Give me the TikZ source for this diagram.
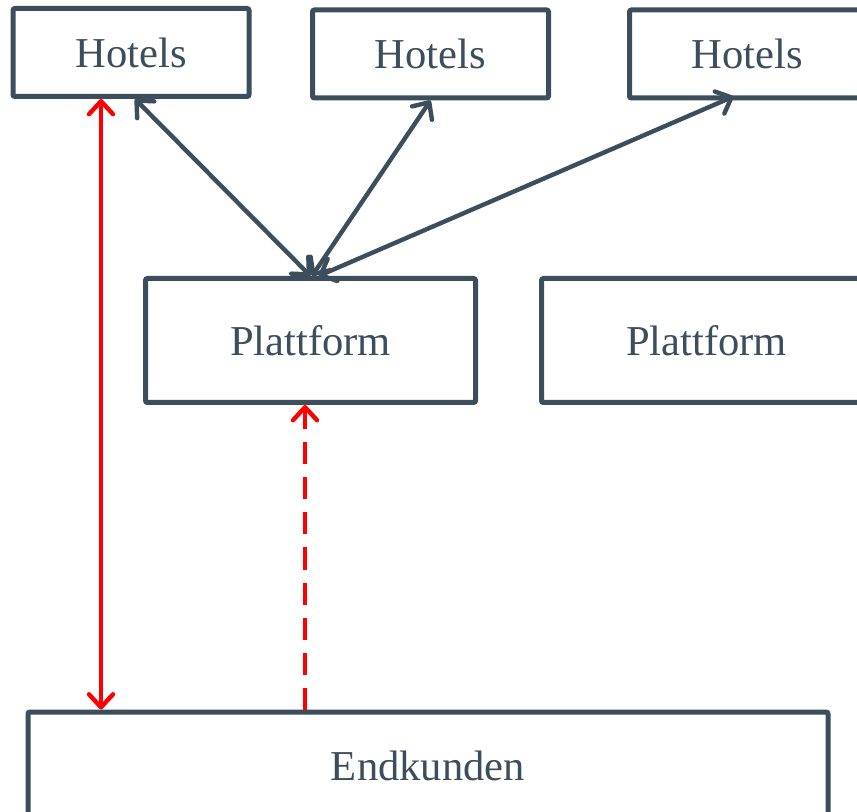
\documentclass[tikz,border=0pt]{standalone}
\usepackage{fontspec}
\setmainfont{Liberation Serif}
\usetikzlibrary{arrows.meta}
\definecolor{slate}{HTML}{3C4D5C}

\begin{document}
\begin{tikzpicture}[
  x=0.5pt, y=-0.5pt,
  font=\fontsize{21.3}{25}\selectfont,
  box/.style={draw=slate, text=slate, line width=2.5pt, rounded corners=1pt, inner sep=0pt},
  hotel/.style={box, minimum width=118pt, minimum height=44pt},
  plat/.style={box, minimum width=165pt, minimum height=62pt},
  arr/.style={{Straight Barb[length=6.5pt,width=12pt,round]}-{Straight Barb[length=6.5pt,width=12pt,round]}, line width=2.2pt, slate},
  link/.style={arr, red}
]
\useasboundingbox (0,0) rectangle (857,812);
\clip (0,0) rectangle (857,812);

\node[hotel] (h1) at (131,52.5) {\raisebox{-1pt}{Hotels}};
\node[hotel] (h2) at (430.5,54) {\raisebox{-1pt}{Hotels}};
\node[hotel] (h3) at (747.5,54) {\raisebox{-1pt}{Hotels}};
\node[plat] (p1) at (310.5,340.5) {Plattform};
\node[plat] (p2) at (706.5,340.5) {Plattform};
\node[box, minimum width=400pt, minimum height=54pt] (ek) at (428,766) {Endkunden};

\coordinate (d1) at ([xshift=-15pt]h1.south);
\coordinate (d2) at ([xshift=-2.75pt]p1.south);

\draw[arr] ([xshift=2pt]h1.south) -- (p1.north);
\draw[arr] (h2.south) -- ([xshift=0.75pt]p1.north);
\draw[arr] ([xshift=-7pt,yshift=2pt]h3.south) -- ([xshift=4pt]p1.north);
\draw[link] (d1) -- (d1 |- ek.north);
\draw[link, -{Straight Barb[length=6.5pt,width=12pt,round]}, dash pattern=on 11pt off 6.5pt]
  (d2 |- ek.north) -- (d2);
\end{tikzpicture}
\end{document}
